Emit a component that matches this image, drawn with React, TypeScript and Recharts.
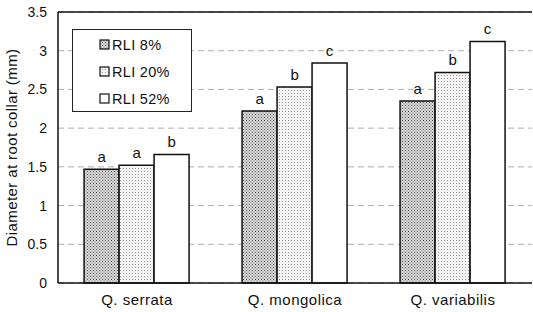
import React from 'react';
import { BarChart, Bar, XAxis, YAxis, CartesianGrid, ReferenceLine, LabelList, Legend } from 'recharts';

const categories = ['Q. serrata', 'Q. mongolica', 'Q. variabilis'];
const rli8 = [1.47, 2.22, 2.35];
const rli20 = [1.52, 2.53, 2.72];
const rli52 = [1.66, 2.84, 3.12];
const letters8 = ['a', 'a', 'a'];
const letters20 = ['a', 'b', 'b'];
const letters52 = ['b', 'c', 'c'];
const seriesNames = ['RLI 8%', 'RLI 20%', 'RLI 52%'];
const yTicks = [0, 0.5, 1, 1.5, 2, 2.5, 3, 3.5];

const data = categories.map((c, i) => ({
  name: c,
  r8: rli8[i],
  r20: rli20[i],
  r52: rli52[i],
  l8: letters8[i],
  l20: letters20[i],
  l52: letters52[i],
}));

const FONT = 'Arial, "Liberation Sans", sans-serif';
const fills = ['url(#pat8)', 'url(#pat20)', '#ffffff'];

const renderLegend = () => (
  <div
    style={{
      width: 120,
      height: 83,
      border: '1px solid #222',
      background: '#fff',
      boxSizing: 'border-box',
      fontFamily: FONT,
      fontSize: 14.5,
      letterSpacing: 0.3,
      color: '#111',
      paddingTop: 1,
    }}
  >
    {seriesNames.map((n, i) => (
      <div key={n} style={{ display: 'flex', alignItems: 'center', height: 27, paddingLeft: 26 }}>
        <svg width={11} height={11} style={{ marginRight: 2 }}>
          <rect x={1} y={1} width={9} height={9} fill={fills[i]} stroke="#111" strokeWidth={1.2} />
        </svg>
        <span>{n}</span>
      </div>
    ))}
  </div>
);

export default function App() {
  return (
    <div style={{ position: 'absolute', left: 0, top: 0 }}>
      <BarChart
        width={533}
        height={312}
        data={data}
        margin={{ top: 12, right: 1, left: 0, bottom: 0 }}
        barGap={0}
        barCategoryGap="16.5%"
      >
        <defs>
          <pattern id="pat8" width="3" height="3" patternUnits="userSpaceOnUse">
            <rect width="3" height="3" fill="#d8d8d8" />
            <rect x="0" y="0" width="1" height="1" fill="#555" />
            <rect x="1.5" y="1.5" width="1" height="1" fill="#777" />
          </pattern>
          <pattern id="pat20" width="3" height="3" patternUnits="userSpaceOnUse">
            <rect width="3" height="3" fill="#f4f4f4" />
            <rect x="0" y="0" width="1" height="1" fill="#999" />
          </pattern>
        </defs>
        <CartesianGrid vertical={false} stroke="#999" strokeDasharray="6 4" strokeWidth={0.8} />
        <XAxis
          dataKey="name"
          height={29}
          tickLine={false}
          axisLine={{ stroke: '#111', strokeWidth: 1.5 }}
          tick={{ fill: '#111', fontSize: 15, fontFamily: FONT, letterSpacing: 0.5 }}
          tickMargin={5}
        />
        <YAxis
          width={58}
          domain={[0, 3.5]}
          ticks={yTicks}
          interval={0}
          tickLine={false}
          axisLine={{ stroke: '#111', strokeWidth: 1.5 }}
          tick={{ fill: '#111', fontSize: 14, fontFamily: FONT }}
          tickMargin={5}
          label={{
            value: 'Diameter at root collar (mm)',
            angle: -90,
            position: 'insideLeft',
            offset: 12,
            style: { textAnchor: 'middle', fill: '#111', fontSize: 15, fontFamily: FONT, letterSpacing: 0.4 },
          }}
        />
        <YAxis
          yAxisId="right"
          orientation="right"
          width={0}
          tick={false}
          tickLine={false}
          axisLine={{ stroke: '#111', strokeWidth: 1.2 }}
        />
        <ReferenceLine y={3.5} stroke="#111" strokeWidth={1.5} />
        <Legend
          content={renderLegend}
          layout="horizontal"
          verticalAlign="middle"
          align="center"
          wrapperStyle={{ position: 'absolute', left: 72, top: 29, width: 120, height: 83 }}
        />
        <Bar dataKey="r8" name={seriesNames[0]} fill={fills[0]} stroke="#111" strokeWidth={1.5} isAnimationActive={false}>
          <LabelList dataKey="l8" position="top" offset={7} style={{ fill: '#111', fontSize: 15, fontFamily: FONT }} />
        </Bar>
        <Bar dataKey="r20" name={seriesNames[1]} fill={fills[1]} stroke="#111" strokeWidth={1.5} isAnimationActive={false}>
          <LabelList dataKey="l20" position="top" offset={7} style={{ fill: '#111', fontSize: 15, fontFamily: FONT }} />
        </Bar>
        <Bar dataKey="r52" name={seriesNames[2]} fill={fills[2]} stroke="#111" strokeWidth={1.5} isAnimationActive={false}>
          <LabelList dataKey="l52" position="top" offset={7} style={{ fill: '#111', fontSize: 15, fontFamily: FONT }} />
        </Bar>
      </BarChart>
    </div>
  );
}
